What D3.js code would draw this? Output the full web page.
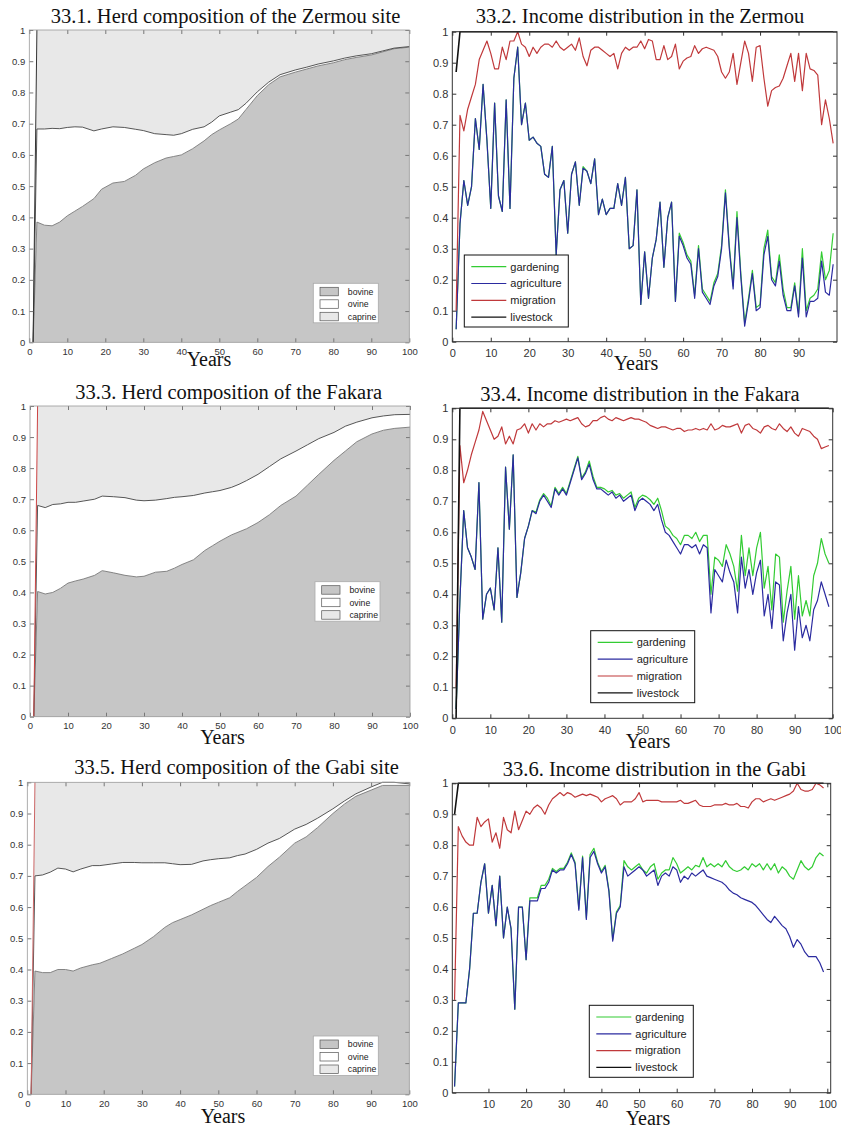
<!doctype html>
<html>
<head>
<meta charset="UTF-8">
<title>Herd composition and income distribution</title>
<script src="https://d3js.org/d3.v7.min.js"></script>
<style>
	body {
		margin: 0;
		background: #fff;
	}
	.title, .xlabel {
		font-family: 'Liberation Serif', 'Times New Roman', serif;
		fill: #111;
	}
	.legend text {
		font-family: 'Liberation Sans', Arial, sans-serif;
		fill: #222;
	}
</style>
</head>

<body>
<svg class="chart" width="841" height="1129"></svg>
<script>
// ---- herd composition (shares of the herd, sampled years) ----
var herdYears = [1, 2, 4, 6, 8, 10, 12, 14, 17, 19, 22, 25, 28, 30, 33, 36, 38, 40, 43, 46, 48, 50, 53, 55, 57, 60, 63, 66, 70, 73, 76, 80, 83, 86, 90, 93, 96, 100];
var herdKeys = ['bovine', 'ovine', 'caprine'];

var zermouBovine = [0, 0.385, 0.375, 0.373, 0.385, 0.405, 0.42, 0.435, 0.46, 0.49, 0.51, 0.515, 0.535, 0.555, 0.575, 0.59, 0.595, 0.60, 0.62, 0.645, 0.665, 0.68, 0.70, 0.715, 0.745, 0.79, 0.825, 0.85, 0.865, 0.875, 0.885, 0.895, 0.905, 0.912, 0.92, 0.93, 0.94, 0.945];
var zermouOvine = [0, 0.298, 0.308, 0.312, 0.299, 0.283, 0.27, 0.254, 0.217, 0.193, 0.18, 0.173, 0.147, 0.123, 0.093, 0.075, 0.068, 0.068, 0.062, 0.045, 0.04, 0.045, 0.037, 0.03, 0.02, 0.012, 0.008, 0.007, 0.007, 0.006, 0.006, 0.006, 0.005, 0.005, 0.004, 0.003, 0.002, 0.002];
var zermouCaprine = [0, 0.317, 0.317, 0.315, 0.316, 0.312, 0.31, 0.311, 0.323, 0.317, 0.31, 0.312, 0.318, 0.322, 0.332, 0.335, 0.337, 0.332, 0.318, 0.31, 0.295, 0.275, 0.263, 0.255, 0.235, 0.198, 0.167, 0.143, 0.128, 0.119, 0.109, 0.099, 0.09, 0.083, 0.076, 0.067, 0.058, 0.053];

var fakaraBovine = [0, 0.403, 0.395, 0.40, 0.413, 0.43, 0.437, 0.443, 0.455, 0.47, 0.463, 0.455, 0.45, 0.452, 0.465, 0.468, 0.478, 0.49, 0.505, 0.535, 0.55, 0.565, 0.585, 0.595, 0.605, 0.625, 0.65, 0.68, 0.71, 0.745, 0.78, 0.825, 0.855, 0.885, 0.91, 0.922, 0.928, 0.932];
var fakaraOvine = [0, 0.277, 0.278, 0.283, 0.272, 0.26, 0.253, 0.251, 0.245, 0.24, 0.245, 0.25, 0.247, 0.243, 0.232, 0.234, 0.228, 0.218, 0.207, 0.185, 0.174, 0.163, 0.153, 0.153, 0.155, 0.155, 0.155, 0.15, 0.145, 0.13, 0.115, 0.09, 0.08, 0.063, 0.052, 0.046, 0.044, 0.041];
var fakaraCaprine = [0, 0.32, 0.327, 0.317, 0.315, 0.31, 0.31, 0.306, 0.30, 0.29, 0.292, 0.295, 0.303, 0.305, 0.303, 0.298, 0.294, 0.292, 0.288, 0.28, 0.276, 0.272, 0.262, 0.252, 0.24, 0.22, 0.195, 0.17, 0.145, 0.125, 0.105, 0.085, 0.065, 0.052, 0.038, 0.032, 0.028, 0.027];

var gabiBovine = [0, 0.395, 0.39, 0.39, 0.40, 0.40, 0.395, 0.405, 0.415, 0.42, 0.435, 0.45, 0.468, 0.48, 0.505, 0.535, 0.55, 0.56, 0.575, 0.593, 0.605, 0.615, 0.63, 0.65, 0.668, 0.695, 0.73, 0.76, 0.805, 0.825, 0.855, 0.90, 0.93, 0.955, 0.975, 0.99, 0.99, 0.99];
var gabiOvine = [0, 0.305, 0.313, 0.322, 0.325, 0.322, 0.318, 0.317, 0.318, 0.313, 0.303, 0.293, 0.275, 0.262, 0.237, 0.207, 0.189, 0.176, 0.162, 0.155, 0.147, 0.14, 0.128, 0.115, 0.102, 0.09, 0.075, 0.06, 0.045, 0.04, 0.03, 0.015, 0.01, 0.008, 0.01, 0.01, 0.01, 0.005];
var gabiCaprine = [0, 0.30, 0.297, 0.288, 0.275, 0.278, 0.287, 0.278, 0.267, 0.267, 0.262, 0.257, 0.257, 0.258, 0.258, 0.258, 0.261, 0.264, 0.263, 0.252, 0.248, 0.245, 0.242, 0.235, 0.23, 0.215, 0.195, 0.18, 0.15, 0.135, 0.115, 0.085, 0.06, 0.037, 0.015, 0, 0, 0.005];

// ---- income distribution (cumulative shares, one value per year 1..99) ----
var incomeYears = d3.range(1, 100);
var incomeKeys = ['gardening', 'agriculture', 'migration', 'livestock'];
var livestockYears = [1, 2, 99];

var zermouAgriculture = [0.04, 0.38, 0.52, 0.44, 0.50, 0.72, 0.62, 0.83, 0.65, 0.43,
	0.77, 0.47, 0.42, 0.78, 0.43, 0.85, 0.95, 0.70, 0.77, 0.65,
	0.66, 0.64, 0.63, 0.54, 0.53, 0.63, 0.28, 0.49, 0.52, 0.35,
	0.54, 0.58, 0.44, 0.56, 0.55, 0.51, 0.59, 0.41, 0.46, 0.41,
	0.43, 0.43, 0.51, 0.44, 0.53, 0.30, 0.31, 0.49, 0.12, 0.29,
	0.14, 0.27, 0.33, 0.45, 0.24, 0.40, 0.45, 0.13, 0.34, 0.31,
	0.27, 0.25, 0.14, 0.30, 0.16, 0.14, 0.12, 0.18, 0.21, 0.30,
	0.48, 0.30, 0.17, 0.40, 0.21, 0.05, 0.13, 0.22, 0.10, 0.11,
	0.28, 0.34, 0.20, 0.18, 0.26, 0.15, 0.10, 0.10, 0.18, 0.08,
	0.27, 0.08, 0.13, 0.13, 0.14, 0.26, 0.16, 0.15, 0.25];
var zermouGardening = [0.04, 0.38, 0.52, 0.44, 0.50, 0.72, 0.62, 0.83, 0.65, 0.43,
	0.77, 0.47, 0.42, 0.78, 0.43, 0.85, 0.95, 0.70, 0.77, 0.65,
	0.66, 0.64, 0.63, 0.54, 0.53, 0.63, 0.28, 0.49, 0.52, 0.35,
	0.54, 0.58, 0.44, 0.565, 0.55, 0.51, 0.59, 0.41, 0.46, 0.41,
	0.43, 0.43, 0.51, 0.44, 0.53, 0.30, 0.31, 0.49, 0.12, 0.29,
	0.14, 0.27, 0.33, 0.45, 0.24, 0.40, 0.45, 0.13, 0.35, 0.32,
	0.28, 0.26, 0.15, 0.31, 0.17, 0.15, 0.13, 0.19, 0.22, 0.31,
	0.49, 0.31, 0.18, 0.42, 0.22, 0.06, 0.14, 0.23, 0.11, 0.12,
	0.30, 0.36, 0.21, 0.19, 0.28, 0.17, 0.11, 0.11, 0.19, 0.09,
	0.30, 0.10, 0.14, 0.15, 0.17, 0.29, 0.20, 0.23, 0.35];
var zermouMigration = [0.10, 0.73, 0.68, 0.75, 0.79, 0.83, 0.91, 0.94, 0.97, 0.93,
	0.88, 0.88, 0.95, 0.91, 0.97, 0.97, 1.0, 0.96, 0.95, 0.92,
	0.95, 0.93, 0.95, 0.96, 0.96, 0.95, 0.97, 0.95, 0.94, 0.95,
	0.96, 0.94, 0.98, 0.92, 0.89, 0.94, 0.95, 0.95, 0.94, 0.93,
	0.92, 0.93, 0.88, 0.93, 0.95, 0.94, 0.95, 0.95, 0.97, 0.945,
	0.975, 0.97, 0.91, 0.91, 0.955, 0.91, 0.92, 0.96, 0.88, 0.905,
	0.915, 0.92, 0.955, 0.93, 0.945, 0.95, 0.945, 0.94, 0.92, 0.87,
	0.85, 0.87, 0.93, 0.83, 0.90, 0.97, 0.93, 0.84, 0.95, 0.955,
	0.85, 0.76, 0.81, 0.82, 0.825, 0.85, 0.89, 0.93, 0.84, 0.93,
	0.81, 0.93, 0.88, 0.875, 0.86, 0.70, 0.78, 0.72, 0.64];
var zermouLivestock = [0.87, 1, 1];

var fakaraAgriculture = [0.03, 0.38, 0.67, 0.55, 0.52, 0.48, 0.76, 0.32, 0.40, 0.42,
	0.35, 0.55, 0.31, 0.81, 0.61, 0.85, 0.39, 0.47, 0.58, 0.62,
	0.67, 0.66, 0.70, 0.72, 0.70, 0.68, 0.74, 0.72, 0.74, 0.72,
	0.76, 0.80, 0.84, 0.77, 0.79, 0.82, 0.77, 0.74, 0.74, 0.73,
	0.72, 0.73, 0.71, 0.72, 0.70, 0.71, 0.72, 0.67, 0.70, 0.71,
	0.70, 0.69, 0.67, 0.69, 0.64, 0.60, 0.59, 0.57, 0.55, 0.53,
	0.56, 0.56, 0.55, 0.56, 0.53, 0.56, 0.55, 0.34, 0.48, 0.46,
	0.44, 0.51, 0.47, 0.44, 0.34, 0.52, 0.42, 0.48, 0.40, 0.47,
	0.51, 0.33, 0.40, 0.29, 0.44, 0.43, 0.25, 0.34, 0.40, 0.22,
	0.36, 0.26, 0.30, 0.25, 0.35, 0.38, 0.44, 0.40, 0.36];
var fakaraGardening = [0.03, 0.38, 0.67, 0.55, 0.52, 0.48, 0.76, 0.32, 0.40, 0.42,
	0.35, 0.55, 0.31, 0.81, 0.61, 0.85, 0.39, 0.47, 0.58, 0.62,
	0.67, 0.665, 0.705, 0.725, 0.71, 0.685, 0.745, 0.725, 0.745, 0.725,
	0.765, 0.805, 0.845, 0.775, 0.795, 0.83, 0.78, 0.745, 0.745, 0.74,
	0.73, 0.735, 0.72, 0.725, 0.71, 0.72, 0.73, 0.68, 0.71, 0.72,
	0.715, 0.705, 0.69, 0.71, 0.67, 0.62, 0.61, 0.59, 0.58, 0.56,
	0.59, 0.59, 0.58, 0.60, 0.57, 0.59, 0.59, 0.40, 0.52, 0.51,
	0.49, 0.56, 0.53, 0.49, 0.41, 0.59, 0.46, 0.55, 0.46, 0.55,
	0.60, 0.42, 0.49, 0.35, 0.53, 0.52, 0.31, 0.41, 0.49, 0.32,
	0.46, 0.33, 0.38, 0.33, 0.46, 0.50, 0.58, 0.53, 0.50];
var fakaraMigration = [0.10, 0.88, 0.76, 0.80, 0.85, 0.89, 0.93, 0.99, 0.96, 0.93,
	0.90, 0.91, 0.94, 0.885, 0.91, 0.885, 0.93, 0.935, 0.95, 0.92,
	0.95, 0.93, 0.95, 0.94, 0.95, 0.95, 0.96, 0.955, 0.96, 0.965,
	0.96, 0.965, 0.97, 0.95, 0.94, 0.945, 0.96, 0.96, 0.97, 0.975,
	0.965, 0.96, 0.97, 0.965, 0.96, 0.965, 0.97, 0.965, 0.965, 0.96,
	0.955, 0.945, 0.94, 0.935, 0.94, 0.94, 0.935, 0.93, 0.935, 0.935,
	0.925, 0.93, 0.93, 0.935, 0.93, 0.935, 0.93, 0.95, 0.93, 0.935,
	0.945, 0.94, 0.94, 0.945, 0.95, 0.92, 0.945, 0.95, 0.935, 0.93,
	0.92, 0.94, 0.945, 0.935, 0.93, 0.95, 0.935, 0.925, 0.94, 0.92,
	0.91, 0.935, 0.93, 0.925, 0.91, 0.90, 0.87, 0.875, 0.88];
var fakaraLivestock = [0, 1, 1];

var gabiAgriculture = [0.02, 0.29, 0.29, 0.29, 0.40, 0.58, 0.58, 0.68, 0.74, 0.58,
	0.67, 0.54, 0.70, 0.50, 0.60, 0.53, 0.27, 0.60, 0.60, 0.43,
	0.62, 0.62, 0.62, 0.66, 0.66, 0.68, 0.72, 0.71, 0.72, 0.72,
	0.74, 0.77, 0.74, 0.59, 0.76, 0.56, 0.76, 0.78, 0.74, 0.71,
	0.73, 0.65, 0.49, 0.58, 0.60, 0.73, 0.70, 0.71, 0.72, 0.73,
	0.72, 0.70, 0.71, 0.72, 0.67, 0.70, 0.71, 0.70, 0.73, 0.72,
	0.68, 0.70, 0.69, 0.71, 0.70, 0.71, 0.72, 0.70, 0.695, 0.69,
	0.685, 0.68, 0.67, 0.655, 0.645, 0.64, 0.63, 0.625, 0.62, 0.615,
	0.605, 0.59, 0.575, 0.56, 0.55, 0.57, 0.555, 0.54, 0.53, 0.505,
	0.47, 0.495, 0.48, 0.455, 0.44, 0.44, 0.44, 0.42, 0.39];
var gabiGardening = [0.02, 0.29, 0.29, 0.29, 0.40, 0.58, 0.58, 0.68, 0.74, 0.58,
	0.67, 0.54, 0.70, 0.50, 0.60, 0.53, 0.27, 0.60, 0.60, 0.43,
	0.63, 0.63, 0.63, 0.67, 0.67, 0.69, 0.725, 0.715, 0.725, 0.725,
	0.745, 0.775, 0.745, 0.595, 0.765, 0.565, 0.77, 0.79, 0.745, 0.715,
	0.735, 0.655, 0.495, 0.585, 0.605, 0.75, 0.73, 0.72, 0.73, 0.74,
	0.72, 0.71, 0.73, 0.74, 0.69, 0.71, 0.72, 0.72, 0.76, 0.74,
	0.71, 0.72, 0.73, 0.72, 0.735, 0.73, 0.76, 0.73, 0.74, 0.73,
	0.74, 0.73, 0.75, 0.73, 0.72, 0.715, 0.72, 0.73, 0.72, 0.74,
	0.73, 0.74, 0.72, 0.74, 0.72, 0.74, 0.71, 0.73, 0.72, 0.70,
	0.69, 0.72, 0.75, 0.73, 0.72, 0.73, 0.76, 0.775, 0.765];
var gabiMigration = [0.30, 0.86, 0.83, 0.81, 0.80, 0.80, 0.89, 0.86, 0.875, 0.885,
	0.81, 0.84, 0.79, 0.89, 0.85, 0.84, 0.91, 0.85, 0.88, 0.91,
	0.90, 0.92, 0.93, 0.92, 0.90, 0.93, 0.95, 0.96, 0.97, 0.96,
	0.97, 0.965, 0.955, 0.96, 0.965, 0.96, 0.965, 0.96, 0.955, 0.94,
	0.95, 0.955, 0.96, 0.95, 0.93, 0.94, 0.94, 0.94, 0.95, 0.97,
	0.94, 0.945, 0.945, 0.945, 0.945, 0.94, 0.94, 0.94, 0.94, 0.94,
	0.945, 0.935, 0.935, 0.94, 0.945, 0.93, 0.925, 0.925, 0.925, 0.93,
	0.93, 0.93, 0.935, 0.93, 0.93, 0.935, 0.925, 0.925, 0.92, 0.94,
	0.95, 0.95, 0.94, 0.945, 0.95, 0.945, 0.95, 0.955, 0.96, 0.965,
	0.975, 1.0, 0.98, 0.975, 0.975, 0.98, 1.0, 0.995, 0.985];
var gabiLivestock = [0.9, 1, 1];

var yTickValues = [0, 0.1, 0.2, 0.3, 0.4, 0.5, 0.6, 0.7, 0.8, 0.9, 1];

var herdColors = {bovine: '#c6c6c6', ovine: '#ffffff', caprine: '#e8e8e8'};
var incomeColors = {gardening: '#33cc33', agriculture: '#2b2ba0', migration: '#c0393b', livestock: '#111111'};

var herdPanels = [
	{title: '33.1. Herd composition of the Zermou site', bovine: zermouBovine, ovine: zermouOvine, caprine: zermouCaprine,
		left: 29.3, right: 409.3, top: 30, bottom: 342.3, titleX: 225.5, titleY: 22.7, yearsX: 209, yearsY: 366,
		legendX: 313.3, legendY: 283.3, edge: '#333'},
	{title: '33.3. Herd composition of the Fakara', bovine: fakaraBovine, ovine: fakaraOvine, caprine: fakaraCaprine,
		left: 30, right: 410, top: 406, bottom: 716.7, titleX: 228.7, titleY: 399.3, yearsX: 222.5, yearsY: 744,
		legendX: 315, legendY: 581.7, edge: '#c44'},
	{title: '33.5. Herd composition of the Gabi site', bovine: gabiBovine, ovine: gabiOvine, caprine: gabiCaprine,
		left: 27.3, right: 409.3, top: 782.3, bottom: 1094.3, titleX: 236.5, titleY: 774, yearsX: 223, yearsY: 1122.5,
		legendX: 313.3, legendY: 1036, edge: '#c66'}
];

var incomePanels = [
	{title: '33.2. Income distribution in the Zermou', gardening: zermouGardening, agriculture: zermouAgriculture,
		migration: zermouMigration, livestock: zermouLivestock,
		left: 452.3, right: 837, top: 31.7, bottom: 341.7, domain: [0, 100], xTicks: [0, 10, 20, 30, 40, 50, 60, 70, 80, 90],
		titleX: 640, titleY: 22.7, yearsX: 636, yearsY: 370, legendX: 464.3, legendY: 255},
	{title: '33.4. Income distribution in the Fakara', gardening: fakaraGardening, agriculture: fakaraAgriculture,
		migration: fakaraMigration, livestock: fakaraLivestock,
		left: 452.3, right: 832.7, top: 408.3, bottom: 718.3, domain: [0, 100], xTicks: [0, 10, 20, 30, 40, 50, 60, 70, 80, 90, 100],
		titleX: 640, titleY: 400.7, yearsX: 648, yearsY: 748, legendX: 590.7, legendY: 630.7},
	{title: '33.6. Income distribution in the Gabi', gardening: gabiGardening, agriculture: gabiAgriculture,
		migration: gabiMigration, livestock: gabiLivestock,
		left: 452.3, right: 830.7, top: 783.3, bottom: 1092.7, domain: [0.4, 100.9], xTicks: [10, 20, 30, 40, 50, 60, 70, 80, 90, 100],
		titleX: 654.5, titleY: 776, yearsX: 648, yearsY: 1125, legendX: 589.3, legendY: 1005.3}
];

var chart = d3.select('.chart');

function addAxes(g, x, y, xTicks, o) {
	g.append('g')
		.attr('transform', 'translate(' + x.range()[0] + ',0)')
		.call(d3.axisLeft(y).tickValues(yTickValues).tickSize(-4).tickPadding(4).tickFormat(String));
	g.append('g')
		.attr('transform', 'translate(' + x.range()[1] + ',0)')
		.call(d3.axisRight(y).tickValues(yTickValues).tickSize(-4).tickFormat(''));
	g.append('g')
		.attr('transform', 'translate(0,' + y.range()[0] + ')')
		.call(d3.axisBottom(x).tickValues(xTicks).tickSize(-4).tickPadding(o.xPad).tickFormat(d3.format('d')));
	g.append('g')
		.attr('transform', 'translate(0,' + y.range()[1] + ')')
		.call(d3.axisTop(x).tickValues(xTicks).tickSize(-4).tickFormat(''));
	g.selectAll('.domain').remove();
	g.selectAll('.tick line').attr('stroke', o.tickColor);
	g.selectAll('.tick text')
		.style('font-family', "'Liberation Sans', Arial, sans-serif")
		.style('font-size', o.fontSize + 'px')
		.attr('fill', '#333');
	g.append('rect')
		.attr('x', x.range()[0])
		.attr('y', y.range()[1])
		.attr('width', x.range()[1] - x.range()[0])
		.attr('height', y.range()[0] - y.range()[1])
		.attr('fill', 'none')
		.attr('stroke', o.frameColor)
		.attr('stroke-width', o.frameWidth);
}

function addTitles(p) {
	chart.append('text')
		.attr('class', 'title')
		.attr('x', p.titleX)
		.attr('y', p.titleY)
		.attr('text-anchor', 'middle')
		.style('font-size', '20.5px')
		.text(p.title);
	chart.append('text')
		.attr('class', 'xlabel')
		.attr('x', p.yearsX)
		.attr('y', p.yearsY)
		.attr('text-anchor', 'middle')
		.style('font-size', '20px')
		.text('Years');
}

herdPanels.forEach(function(p) {
	var x = d3.scaleLinear().domain([0, 100]).range([p.left, p.right]);
	var y = d3.scaleLinear().domain([0, 1]).range([p.bottom, p.top]);
	var rows = herdYears.map(function(yr, i) {
		return {year: yr, bovine: p.bovine[i], ovine: p.ovine[i], caprine: p.caprine[i]};
	});
	var layers = d3.stack().keys(herdKeys)(rows);
	var g = chart.append('g');
	g.append('rect')
		.attr('x', p.left).attr('y', p.top)
		.attr('width', p.right - p.left).attr('height', p.bottom - p.top)
		.attr('fill', '#fff');
	var area = d3.area()
		.x(function(d) { return x(d.data.year); })
		.y0(function(d) { return y(d[0]); })
		.y1(function(d) { return y(d[1]); });
	var topLine = d3.line()
		.x(function(d) { return x(d.data.year); })
		.y(function(d) { return y(d[1]); });
	g.selectAll('.layer')
		.data(layers)
		.enter().append('path')
		.attr('class', 'layer')
		.attr('d', area)
		.attr('fill', function(d) { return herdColors[d.key]; });
	g.selectAll('.edge')
		.data(layers.slice(0, 2))
		.enter().append('path')
		.attr('class', 'edge')
		.attr('d', topLine)
		.attr('fill', 'none')
		.attr('stroke', function(d, i) { return i === 0 ? '#777' : '#444'; })
		.attr('stroke-width', 0.9);
	// the slanted start of the total
	g.append('path')
		.attr('d', topLine(layers[2].slice(0, 2)))
		.attr('fill', 'none')
		.attr('stroke', p.edge)
		.attr('stroke-width', 1);
	addAxes(g, x, y, d3.range(0, 101, 10), {xPad: 5.5, fontSize: 9.5, tickColor: '#777', frameColor: '#999', frameWidth: 0.8});

	// legend
	var lg = g.append('g')
		.attr('class', 'legend')
		.attr('transform', 'translate(' + p.legendX + ',' + p.legendY + ')');
	lg.append('rect')
		.attr('width', 65).attr('height', 39.5)
		.attr('fill', '#fff').attr('stroke', '#aaa').attr('stroke-width', 0.8);
	herdKeys.forEach(function(k, i) {
		lg.append('rect')
			.attr('x', 6.7).attr('y', 4 + i * 12.5)
			.attr('width', 18.3).attr('height', 8.5)
			.attr('fill', herdColors[k]).attr('stroke', '#555').attr('stroke-width', 0.7);
		lg.append('text')
			.attr('x', 34.5).attr('y', 8.3 + i * 12.5)
			.attr('dy', '0.35em')
			.style('font-size', '8.7px')
			.text(k);
	});
	addTitles(p);
});

incomePanels.forEach(function(p) {
	var x = d3.scaleLinear().domain(p.domain).range([p.left, p.right]);
	var y = d3.scaleLinear().domain([0, 1]).range([p.bottom, p.top]);
	var g = chart.append('g');
	var clipId = 'clip' + Math.round(p.top);
	g.append('clipPath').attr('id', clipId)
		.append('rect')
		.attr('x', p.left).attr('y', p.top - 2)
		.attr('width', p.right - p.left).attr('height', p.bottom - p.top + 2);
	var line = d3.line()
		.x(function(d) { return x(d[0]); })
		.y(function(d) { return y(d[1]); });
	var plot = g.append('g').attr('clip-path', 'url(#' + clipId + ')');
	incomeKeys.forEach(function(k) {
		var xs = k === 'livestock' ? livestockYears : incomeYears;
		var pts = p[k].map(function(v, i) { return [xs[i], v]; });
		plot.append('path')
			.attr('d', line(pts))
			.attr('fill', 'none')
			.attr('stroke', incomeColors[k])
			.attr('stroke-width', k === 'livestock' ? 1.6 : 1.2)
			.attr('stroke-linejoin', 'round');
	});
	addAxes(g, x, y, p.xTicks, {xPad: 7.8, fontSize: 11, tickColor: '#333', frameColor: '#333', frameWidth: 1});

	var lg = g.append('g')
		.attr('class', 'legend')
		.attr('transform', 'translate(' + p.legendX + ',' + p.legendY + ')');
	lg.append('rect')
		.attr('width', 104).attr('height', 72)
		.attr('fill', '#fff').attr('stroke', '#111').attr('stroke-width', 1);
	incomeKeys.forEach(function(k, i) {
		var ly = 11.7 + i * 16.8;
		lg.append('line')
			.attr('x1', 7).attr('x2', 42)
			.attr('y1', ly).attr('y2', ly)
			.attr('stroke', incomeColors[k])
			.attr('stroke-width', 1.2);
		lg.append('text')
			.attr('x', 46).attr('y', ly)
			.attr('dy', '0.35em')
			.style('font-size', '11px')
			.text(k);
	});
	addTitles(p);
});
</script>
</body>
</html>
